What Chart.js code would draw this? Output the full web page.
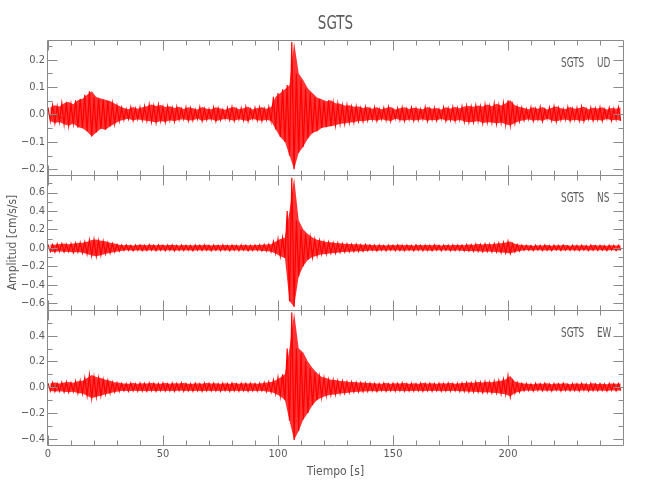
<!DOCTYPE html>
<html>
<head>
<meta charset="utf-8">
<title>SGTS</title>
<script src="https://cdn.jsdelivr.net/npm/chart.js@4.4.1/dist/chart.umd.min.js"></script>
<style>
  body { margin: 0; background: #fff; }
  #wrap { position: relative; width: 650px; height: 500px; }
  #wrap canvas { position: absolute; left: 0; top: 0; }
</style>
</head>
<body>
<div id="wrap">
  <canvas id="ud" width="650" height="500"></canvas>
  <canvas id="ns" width="650" height="500"></canvas>
  <canvas id="ew" width="650" height="500"></canvas>
</div>
<script>
// each trace is kept as min/max per 2 s bin (upper = max, lower = min)
const binWidth = 2;

const xMajor = [0, 50, 100, 150, 200];
const xMinor = [10, 20, 30, 40, 60, 70, 80, 90, 110, 120, 130, 140,
  160, 170, 180, 190, 210, 220, 230, 240];

const udMajor = [-0.2, -0.1, 0, 0.1, 0.2];
const udMinor = [-0.15, -0.05, 0.05, 0.15, 0.25];
const nsMajor = [-0.6, -0.4, -0.2, 0, 0.2, 0.4, 0.6];
const nsMinor = [-0.5, -0.3, -0.1, 0.1, 0.3, 0.5, 0.7];
const ewMajor = [-0.4, -0.2, 0, 0.2, 0.4];
const ewMinor = [-0.3, -0.1, 0.1, 0.3, 0.5];

const udUpper = [
  0.026, 0.034, 0.029, 0.041, 0.046, 0.037, 0.052, 0.057,           // 0-14 s
  0.072, 0.085, 0.064, 0.058, 0.054, 0.049, 0.040,                  // 16-28
  0.031, 0.024, 0.019, 0.027, 0.021, 0.026, 0.030, 0.036,           // 30-44
  0.031, 0.035, 0.027, 0.030, 0.024, 0.028, 0.020, 0.026,           // 46-60
  0.023, 0.018, 0.027, 0.021, 0.019, 0.026, 0.022, 0.017,           // 62-76
  0.024, 0.027, 0.019, 0.023, 0.028, 0.018, 0.024, 0.026, 0.021, 0.027, // 78-96
  0.065, 0.078, 0.092, 0.108, 0.265, 0.150, 0.125, 0.095, 0.078, 0.062, 0.056,
  0.048, 0.052, 0.041, 0.039, 0.033, 0.034, 0.028, 0.029, 0.024, 0.027, // 98-138
  0.021, 0.026, 0.019, 0.024, 0.027, 0.018, 0.023, 0.026, 0.020, 0.025, 0.022,
  0.019, 0.027, 0.021, 0.024, 0.018, 0.026, 0.022, 0.027, 0.023, 0.029, 0.031, // 140-182
  0.028, 0.033, 0.029, 0.036, 0.030, 0.039, 0.033, 0.041, 0.052, 0.034, 0.027, // 184-204
  0.024, 0.019, 0.026, 0.021, 0.027, 0.018, 0.025, 0.029, 0.023, 0.020, 0.027,
  0.021, 0.024, 0.028, 0.019, 0.025, 0.022, 0.026, 0.018, 0.024, 0.021, 0.026  // 206-248
];
const udLower = [
  -0.024, -0.031, -0.027, -0.036, -0.041, -0.033, -0.047, -0.050,
  -0.062, -0.080, -0.066, -0.052, -0.056, -0.044, -0.034,
  -0.024, -0.019, -0.016, -0.022, -0.017, -0.021, -0.023, -0.026,
  -0.029, -0.024, -0.027, -0.021, -0.025, -0.019, -0.017, -0.022,
  -0.021, -0.016, -0.023, -0.019, -0.017, -0.024, -0.020, -0.016,
  -0.019, -0.023, -0.017, -0.021, -0.024, -0.016, -0.021, -0.023, -0.019, -0.024,
  -0.055, -0.082, -0.100, -0.150, -0.200, -0.140, -0.118, -0.088, -0.068, -0.061, -0.049,
  -0.046, -0.043, -0.039, -0.034, -0.033, -0.029, -0.028, -0.024, -0.025, -0.021,
  -0.019, -0.023, -0.017, -0.021, -0.024, -0.016, -0.020, -0.023, -0.018, -0.022, -0.020,
  -0.017, -0.023, -0.019, -0.022, -0.016, -0.023, -0.020, -0.024, -0.019, -0.026, -0.028,
  -0.027, -0.024, -0.031, -0.028, -0.029, -0.033, -0.029, -0.036, -0.040, -0.031, -0.024,
  -0.021, -0.017, -0.023, -0.019, -0.024, -0.016, -0.022, -0.026, -0.020, -0.018, -0.023,
  -0.019, -0.022, -0.024, -0.017, -0.022, -0.019, -0.023, -0.016, -0.022, -0.019, -0.023
];

const nsUpper = [
  0.038, 0.033, 0.042, 0.046, 0.039, 0.047, 0.052, 0.056,
  0.066, 0.085, 0.091, 0.078, 0.071, 0.054, 0.046,
  0.034, 0.029, 0.032, 0.026, 0.031, 0.033, 0.027, 0.034,
  0.029, 0.033, 0.027, 0.030, 0.032, 0.026, 0.031, 0.027,
  0.026, 0.031, 0.028, 0.033, 0.026, 0.030, 0.027, 0.032,
  0.027, 0.031, 0.026, 0.032, 0.029, 0.027, 0.031, 0.033, 0.036, 0.040,
  0.070, 0.095, 0.110, 0.400, 0.760, 0.300, 0.200, 0.150, 0.112, 0.088, 0.076,
  0.063, 0.061, 0.053, 0.051, 0.044, 0.043, 0.038, 0.039, 0.034, 0.036,
  0.031, 0.029, 0.032, 0.026, 0.031, 0.028, 0.033, 0.027, 0.030, 0.026, 0.032,
  0.028, 0.031, 0.027, 0.033, 0.026, 0.030, 0.028, 0.032, 0.031, 0.029, 0.036,
  0.034, 0.041, 0.037, 0.043, 0.039, 0.046, 0.051, 0.058, 0.070, 0.044, 0.034,
  0.029, 0.027, 0.024, 0.029, 0.026, 0.031, 0.024, 0.028, 0.026, 0.030, 0.023,
  0.028, 0.026, 0.029, 0.024, 0.031, 0.025, 0.027, 0.024, 0.029, 0.026, 0.028
];
const nsLower = [
  -0.041, -0.046, -0.038, -0.044, -0.042, -0.051, -0.046, -0.054,
  -0.066, -0.084, -0.090, -0.079, -0.064, -0.056, -0.044,
  -0.036, -0.029, -0.027, -0.031, -0.026, -0.031, -0.029, -0.027,
  -0.031, -0.027, -0.030, -0.026, -0.032, -0.027, -0.029, -0.026,
  -0.031, -0.027, -0.029, -0.026, -0.032, -0.027, -0.030, -0.026,
  -0.031, -0.027, -0.030, -0.026, -0.031, -0.029, -0.027, -0.033, -0.035, -0.041,
  -0.060, -0.090, -0.110, -0.580, -0.640, -0.310, -0.200, -0.130, -0.100, -0.086, -0.069,
  -0.066, -0.058, -0.056, -0.049, -0.046, -0.041, -0.040, -0.037, -0.036, -0.031,
  -0.029, -0.033, -0.027, -0.031, -0.026, -0.030, -0.028, -0.032, -0.027, -0.031, -0.026,
  -0.030, -0.028, -0.031, -0.027, -0.030, -0.026, -0.031, -0.028, -0.029, -0.033, -0.034,
  -0.036, -0.037, -0.041, -0.039, -0.043, -0.044, -0.051, -0.054, -0.060, -0.044, -0.035,
  -0.027, -0.025, -0.029, -0.024, -0.028, -0.026, -0.030, -0.024, -0.029, -0.025, -0.027,
  -0.026, -0.029, -0.024, -0.030, -0.026, -0.027, -0.025, -0.029, -0.024, -0.028, -0.026
];

const ewUpper = [
  0.031, 0.036, 0.028, 0.037, 0.041, 0.034, 0.046, 0.051,
  0.072, 0.095, 0.079, 0.071, 0.058, 0.051, 0.039,
  0.034, 0.029, 0.027, 0.032, 0.026, 0.031, 0.028, 0.033,
  0.029, 0.027, 0.032, 0.026, 0.031, 0.029, 0.033, 0.027,
  0.027, 0.031, 0.026, 0.032, 0.028, 0.030, 0.026, 0.031,
  0.027, 0.032, 0.026, 0.031, 0.028, 0.030, 0.027, 0.031, 0.036, 0.041,
  0.055, 0.075, 0.100, 0.300, 0.580, 0.300, 0.270, 0.200, 0.150, 0.110, 0.080,
  0.071, 0.058, 0.056, 0.049, 0.046, 0.041, 0.040, 0.037, 0.036, 0.033,
  0.031, 0.029, 0.027, 0.032, 0.026, 0.031, 0.028, 0.033, 0.027, 0.030, 0.026,
  0.032, 0.028, 0.031, 0.027, 0.030, 0.029, 0.032, 0.027, 0.031, 0.033, 0.036,
  0.034, 0.041, 0.037, 0.043, 0.039, 0.046, 0.051, 0.061, 0.088, 0.044, 0.034,
  0.029, 0.027, 0.024, 0.029, 0.026, 0.031, 0.024, 0.028, 0.026, 0.030, 0.023,
  0.028, 0.026, 0.029, 0.024, 0.031, 0.025, 0.027, 0.024, 0.029, 0.026, 0.028
];
const ewLower = [
  -0.029, -0.033, -0.031, -0.036, -0.039, -0.034, -0.046, -0.049,
  -0.066, -0.086, -0.074, -0.066, -0.054, -0.046, -0.037,
  -0.031, -0.028, -0.031, -0.027, -0.030, -0.029, -0.031, -0.027,
  -0.031, -0.027, -0.029, -0.028, -0.031, -0.026, -0.030, -0.028,
  -0.030, -0.027, -0.031, -0.028, -0.029, -0.027, -0.031, -0.026,
  -0.031, -0.028, -0.030, -0.027, -0.031, -0.028, -0.029, -0.027, -0.033, -0.038,
  -0.050, -0.070, -0.100, -0.260, -0.410, -0.340, -0.250, -0.200, -0.140, -0.100, -0.080,
  -0.066, -0.059, -0.056, -0.049, -0.046, -0.041, -0.037, -0.036, -0.034, -0.032,
  -0.029, -0.033, -0.027, -0.031, -0.028, -0.030, -0.027, -0.031, -0.029, -0.030, -0.027,
  -0.031, -0.028, -0.030, -0.027, -0.031, -0.029, -0.030, -0.027, -0.031, -0.032, -0.035,
  -0.036, -0.037, -0.041, -0.039, -0.043, -0.044, -0.051, -0.054, -0.073, -0.044, -0.036,
  -0.027, -0.025, -0.029, -0.024, -0.028, -0.026, -0.030, -0.024, -0.029, -0.025, -0.027,
  -0.026, -0.029, -0.024, -0.030, -0.026, -0.027, -0.025, -0.029, -0.024, -0.028, -0.026
];

const fontFamily = "'Liberation Sans Narrow', 'DejaVu Sans Condensed', 'Liberation Sans', sans-serif";
const axisColor = '#8a8a8a';
const textColor = '#5a5a5a';
const traceColor = '#ff0000';
const bandColor = 'rgba(255, 0, 0, 0.8)';

Chart.defaults.font.family = fontFamily;
Chart.defaults.color = textColor;

/* min/max pairs -> zig-zag polyline, like a decimated seismogram */
function traceData(upper, lower) {
  const pts = [];
  upper.forEach(function (u, i) {
    const t = i * binWidth;
    pts.push({x: t, y: u});
    pts.push({x: t + binWidth / 2, y: lower[i]});
  });
  return pts;
}

/* one envelope (max or min) per bin, placed at the bin centre */
function envelope(values) {
  return values.map(function (v, i) {
    return {x: i * binWidth + binWidth / 2, y: v};
  });
}

function fmt(v) {
  if (Math.abs(v) < 1e-9) return '0.0';
  return v.toFixed(1).replace('-', '\u2212');
}

function narrowText(ctx, text, x, y, size, squeeze) {
  ctx.save();
  ctx.translate(x, y);
  ctx.scale(squeeze, 1);
  ctx.font = size + 'px ' + fontFamily;
  ctx.fillText(text, 0, 0);
  ctx.restore();
}

// frame with inward ticks on all four sides, plus station labels
const seisFrame = {
  id: 'seisFrame',
  afterDatasetsDraw: function (chart, args, opts) {
    const ctx = chart.ctx;
    const area = chart.chartArea;
    const xs = chart.scales.x;
    const ys = chart.scales.y;
    const left = Math.round(area.left) - 0.5;
    const right = Math.round(area.right) + 0.5;
    const top = Math.round(area.top) + 0.5;
    const bottom = Math.round(area.bottom) + 0.5;

    ctx.save();
    ctx.strokeStyle = axisColor;
    ctx.lineWidth = 1;
    ctx.beginPath();
    ctx.rect(left, top, right - left, bottom - top);
    const xTick = function (v, len) {
      const px = Math.round(xs.getPixelForValue(v)) + 0.5;
      ctx.moveTo(px, bottom); ctx.lineTo(px, bottom - len);
      ctx.moveTo(px, top); ctx.lineTo(px, top + len);
    };
    const yTick = function (v, len) {
      const py = Math.round(ys.getPixelForValue(v)) + 0.5;
      ctx.moveTo(left, py); ctx.lineTo(left + len, py);
      ctx.moveTo(right, py); ctx.lineTo(right - len, py);
    };
    xMajor.forEach(function (v) { xTick(v, 10); });
    xMinor.forEach(function (v) { xTick(v, 5); });
    opts.major.forEach(function (v) { yTick(v, 10); });
    opts.minor.forEach(function (v) { yTick(v, 5); });
    ctx.stroke();

    ctx.fillStyle = textColor;
    ctx.textBaseline = 'alphabetic';
    ctx.textAlign = 'left';
    narrowText(ctx, 'SGTS', area.right - 62, area.top + 26.5, 14.5, 0.68);
    narrowText(ctx, opts.code, area.right - 26, area.top + 26.5, 14.5, 0.68);
    if (opts.title) {
      ctx.textAlign = 'center';
      narrowText(ctx, opts.title, (area.left + area.right) / 2, area.top - 11, 20, 0.75);
    }
    ctx.restore();
  }
};

function makePanel(id, panel) {
  const ctx = document.getElementById(id).getContext('2d');
  const xAxis = {
    type: 'linear',
    min: 0,
    max: 250,
    display: panel.showX,
    grid: {display: false, drawTicks: false},
    border: {display: false},
    ticks: {
      autoSkip: false,
      maxRotation: 0,
      padding: 3,
      color: textColor,
      font: {size: 11},
      callback: function (v) { return String(v); }
    },
    afterBuildTicks: function (scale) {
      scale.ticks = xMajor.map(function (v) { return {value: v}; });
    },
    afterFit: function (scale) { scale.height = panel.showX ? 55 : 0; },
    title: {
      display: panel.showX,
      text: 'Tiempo [s]',
      color: textColor,
      font: {size: 12},
      padding: {top: 0, bottom: 20.8}
    }
  };

  // eslint-disable-next-line no-undef
  return new Chart(ctx, {
    type: 'line',
    data: {
      datasets: [{
        data: envelope(panel.upper),
        borderWidth: 0,
        pointRadius: 0,
        tension: 0,
        fill: false
      }, {
        data: envelope(panel.lower),
        borderWidth: 0,
        backgroundColor: bandColor,
        pointRadius: 0,
        tension: 0,
        fill: '-1'
      }, {
        data: traceData(panel.upper, panel.lower),
        borderColor: traceColor,
        borderWidth: 1.2,
        pointRadius: 0,
        tension: 0,
        fill: false
      }]
    },
    options: {
      responsive: false,
      animation: false,
      devicePixelRatio: 1,
      parsing: false,
      layout: {padding: {top: panel.padTop, bottom: panel.padBottom, left: 0, right: 27}},
      plugins: {
        legend: {display: false},
        tooltip: {enabled: false},
        seisFrame: {major: panel.major, minor: panel.minor, code: panel.code, title: panel.title}
      },
      scales: {
        x: xAxis,
        y: {
          type: 'linear',
          min: panel.min,
          max: panel.max,
          grid: {display: false, drawTicks: false},
          border: {display: false},
          ticks: {
            padding: 3,
            color: textColor,
            font: {size: 11},
            callback: fmt
          },
          afterBuildTicks: function (scale) {
            scale.ticks = panel.major.map(function (v) { return {value: v}; });
          },
          afterFit: function (scale) { scale.width = 48; },
          title: {
            display: !!panel.yTitle,
            text: panel.yTitle || '',
            color: textColor,
            font: {size: 12},
            padding: {top: 5.8, bottom: 0}
          }
        }
      }
    },
    plugins: [seisFrame]
  });
}

makePanel('ud', {
  upper: udUpper, lower: udLower, major: udMajor, minor: udMinor,
  min: -0.221, max: 0.272, code: 'UD', title: 'SGTS',
  padTop: 40, padBottom: 325, showX: false
});
makePanel('ns', {
  upper: nsUpper, lower: nsLower, major: nsMajor, minor: nsMinor,
  min: -0.674, max: 0.79, code: 'NS', yTitle: 'Amplitud [cm/s/s]',
  padTop: 175, padBottom: 190, showX: false
});
makePanel('ew', {
  upper: ewUpper, lower: ewLower, major: ewMajor, minor: ewMinor,
  min: -0.449, max: 0.60, code: 'EW',
  padTop: 310, padBottom: 0, showX: true
});
</script>
</body>
</html>
